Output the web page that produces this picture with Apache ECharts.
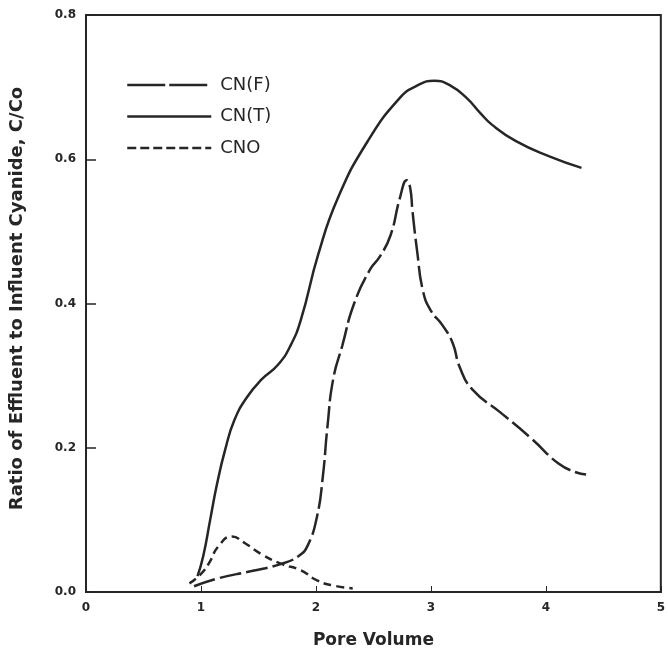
<!DOCTYPE html>
<html>
<head>
<meta charset="utf-8">
<script src="https://cdn.jsdelivr.net/npm/echarts@6/dist/echarts.min.js"></script>
<style>
html,body{margin:0;padding:0;background:#fff;}
#chart{width:668px;height:654px;}
</style>
</head>
<body>
<div id="chart"></div>
<script>
// Data: [pore volume, C/Co]
const cnF = [[0.94,0.008],[1.15,0.019],[1.44,0.029],[1.7,0.039],[1.85,0.05],[1.93,0.065],[2.01,0.105],[2.06,0.16],[2.1,0.229],[2.15,0.295],[2.23,0.342],[2.33,0.399],[2.47,0.447],[2.56,0.466],[2.65,0.495],[2.73,0.546],[2.79,0.571],[2.82,0.56],[2.84,0.528],[2.88,0.473],[2.93,0.418],[3.0,0.39],[3.1,0.37],[3.19,0.345],[3.25,0.312],[3.36,0.281],[3.62,0.247],[3.88,0.212],[4.11,0.178],[4.26,0.166],[4.35,0.163]];
const cnT = [[0.97,0.022],[1.02,0.05],[1.08,0.1],[1.14,0.15],[1.21,0.197],[1.29,0.238],[1.4,0.27],[1.53,0.295],[1.67,0.315],[1.78,0.342],[1.87,0.378],[2.02,0.468],[2.19,0.546],[2.45,0.625],[2.73,0.685],[2.88,0.702],[3.03,0.709],[3.17,0.702],[3.31,0.685],[3.43,0.664],[3.53,0.648],[3.74,0.625],[4.03,0.604],[4.31,0.588]];
const cno = [[0.9,0.012],[1.0,0.025],[1.07,0.04],[1.15,0.063],[1.27,0.077],[1.38,0.068],[1.53,0.052],[1.7,0.039],[1.87,0.03],[2.01,0.016],[2.15,0.009],[2.32,0.005]];
const seriesNames = ['CN(F)','CN(T)','CNO'];
const xTicks = {min:0, max:5, interval:1};
const yTicks = {min:0, max:0.8, interval:0.2};

const ink = '#262626';
const font = 'DejaVu Sans';
const chart = echarts.init(document.getElementById('chart'), null, {renderer:'canvas'});
const lineBase = {type:'line', showSymbol:false, symbol:'none', smooth:0.5, animation:false};
const dashF = [22,5], dashO = [8,5];
const hiddenMark = {color:'rgba(0,0,0,0)', borderWidth:0, opacity:0};
chart.setOption({
  backgroundColor:'#fff',
  animation:false,
  grid:{left:83, right:5, top:15, bottom:58, show:true, borderColor:ink, borderWidth:2, backgroundColor:'transparent'},
  legend:{
    orient:'vertical', left:121, top:71, itemWidth:84, itemHeight:18, itemGap:13.5,
    textStyle:{fontFamily:font, fontSize:18, color:ink, padding:[0,0,0,4]},
    data:[
      {name:seriesNames[0], itemStyle:hiddenMark, lineStyle:{type:[38,4], width:2.5, color:ink}},
      {name:seriesNames[1], itemStyle:hiddenMark, lineStyle:{type:'solid', width:2.5, color:ink}},
      {name:seriesNames[2], itemStyle:hiddenMark, lineStyle:{type:[9,4], width:2.5, color:ink}}
    ]
  },
  xAxis:{
    type:'value', min:xTicks.min, max:xTicks.max, interval:xTicks.interval,
    name:'Pore Volume', nameLocation:'middle', nameGap:40,
    nameTextStyle:{fontFamily:font, fontSize:17, fontWeight:'bold', color:ink},
    axisLine:{show:true, lineStyle:{color:ink, width:2}},
    axisTick:{show:true, inside:true, length:6, lineStyle:{color:ink, width:1}},
    axisLabel:{fontFamily:font, fontSize:12, fontWeight:'bold', color:ink, margin:10, formatter:v=>String(v)},
    splitLine:{show:false}
  },
  yAxis:{
    type:'value', min:yTicks.min, max:yTicks.max, interval:yTicks.interval,
    name:'Ratio of Effluent to Influent Cyanide, C/Co', nameLocation:'middle', nameGap:60,
    nameTextStyle:{fontFamily:font, fontSize:18, fontWeight:'bold', color:ink, padding:[0,0,0,10]},
    axisLine:{show:true, lineStyle:{color:ink, width:2}},
    axisTick:{show:true, inside:true, length:10, lineStyle:{color:ink, width:1.5}},
    axisLabel:{fontFamily:font, fontSize:12, fontWeight:'bold', color:ink, margin:10, formatter:v=>v.toFixed(1)},
    splitLine:{show:false}
  },
  series:[
    Object.assign({}, lineBase, {name:seriesNames[0], data:cnF, lineStyle:{color:ink, width:2.5, type:dashF}, itemStyle:{color:ink}}),
    Object.assign({}, lineBase, {name:seriesNames[1], data:cnT, lineStyle:{color:ink, width:2.5, type:'solid'}, itemStyle:{color:ink}}),
    Object.assign({}, lineBase, {name:seriesNames[2], data:cno, lineStyle:{color:ink, width:2.5, type:dashO}, itemStyle:{color:ink}})
  ]
});
</script>
</body>
</html>
